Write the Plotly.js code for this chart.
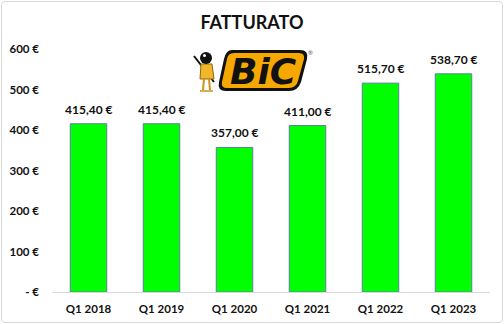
<!DOCTYPE html>
<html><head><meta charset="utf-8">
<script src="https://cdn.plot.ly/plotly-3.0.1.min.js"></script>
<style>
html,body{margin:0;padding:0;background:#fff;}
#wrap{position:relative;width:504px;height:324px;}
#chart{width:504px;height:324px;}
#frame{position:absolute;left:1px;top:1px;width:500px;height:320px;border:1px solid #d9d9d9;border-radius:4px;pointer-events:none;}
</style></head>
<body>
<div id="wrap"><div id="chart"></div><div id="frame"></div></div>
<script>
const categories = ["Q1 2018","Q1 2019","Q1 2020","Q1 2021","Q1 2022","Q1 2023"];
const values = [415.40, 415.40, 357.00, 411.00, 515.70, 538.70];
const tickValues = [0,100,200,300,400,500,600];
const tickLabels = ["- €","100 €","200 €","300 €","400 €","500 €","600 €"];

const labels = values.map(v => v.toFixed(2).replace('.', ',') + ' €');
const FONT = "Lato, 'Open Sans', sans-serif";

// plot area: x 52..490, y 49..292
const L = 52, R = 14, T = 49, B = 32, W = 504, H = 324;
const pw = W - L - R, ph = H - T - B;
const px = x => (x - L) / pw;
const py = y => (H - B - y) / ph;

function pathStr(cmds){
  return cmds.map(c => {
    const op = c[0];
    const nums = [];
    for (let i = 1; i < c.length; i += 2) nums.push(px(c[i]).toFixed(4) + ',' + py(c[i+1]).toFixed(4));
    return op + nums.join(' ');
  }).join(' ') + ' Z';
}
const outer = pathStr([
  ['M', 232, 50], ['L', 300, 50], ['Q', 309, 50, 307, 59], ['L', 301, 82],
  ['Q', 298, 91, 289, 91], ['L', 226, 91], ['Q', 217, 91, 219, 82], ['L', 224, 59],
  ['Q', 226, 50, 232, 50]
]);
const inner = pathStr([
  ['M', 234, 53], ['L', 299, 53], ['Q', 305, 53, 304, 59], ['L', 298, 81],
  ['Q', 296, 88, 289, 88], ['L', 227, 88], ['Q', 221, 88, 222, 82], ['L', 227, 59],
  ['Q', 228, 53, 234, 53]
]);
const body = pathStr([
  ['M', 201, 64], ['L', 212, 64], ['L', 214, 79], ['L', 200, 79]
]);

const shapes = [
  {type:'path', xref:'paper', yref:'paper', path: outer, fillcolor:'#111', line:{width:0}},
  {type:'path', xref:'paper', yref:'paper', path: inner, fillcolor:'#f7a800', line:{width:0}},
  {type:'line', xref:'paper', yref:'paper', x0:px(194), y0:py(56), x1:px(214), y1:py(82), line:{color:'#111', width:2}},
  {type:'path', xref:'paper', yref:'paper', path: body, fillcolor:'#f2b62a', line:{color:'#8a6a10', width:1}},
  {type:'circle', xref:'paper', yref:'paper', x0:px(200), y0:py(52), x1:px(212), y1:py(64), fillcolor:'#111', line:{width:0}},
  {type:'circle', xref:'paper', yref:'paper', x0:px(203), y0:py(54), x1:px(206), y1:py(57), fillcolor:'#fff', line:{width:0}},
  {type:'line', xref:'paper', yref:'paper', x0:px(204), y0:py(79), x1:px(203), y1:py(90), line:{color:'#c9951c', width:2}},
  {type:'line', xref:'paper', yref:'paper', x0:px(209), y0:py(79), x1:px(210), y1:py(90), line:{color:'#c9951c', width:2}},
  {type:'line', xref:'paper', yref:'paper', x0:px(200), y0:py(91), x1:px(213), y1:py(91), line:{color:'#c9951c', width:1.5}}
];

const trace = {
  type: 'bar',
  x: categories,
  y: values,
  marker: {color: '#00ff00', line: {color: '#5b7f9e', width: 1}},
  hoverinfo: 'none'
};

const valueAnnotations = categories.map((c, i) => ({
  x: c, y: values[i], xref: 'x', yref: 'y', xanchor: 'center', yanchor: 'bottom',
  yshift: 5, showarrow: false, text: '<b>' + labels[i] + '</b>',
  font: {family: FONT, size: 12, color: '#111'}
}));

const layout = {
  width: W, height: H,
  margin: {l: L, r: R, t: T, b: B, pad: 0},
  paper_bgcolor: '#fff', plot_bgcolor: '#fff',
  bargap: 0.5,
  showlegend: false,
  font: {family: FONT, size: 11, color: '#111'},
  title: {text: '<b>FATTURATO</b>', x: 0.5, xanchor: 'center', y: 0.93, yanchor: 'middle',
          font: {family: FONT, size: 18, color: '#111'}},
  xaxis: {
    type: 'category', showgrid: false, zeroline: false,
    showline: true, linecolor: '#d9d9d9', linewidth: 1,
    ticks: '', ticklabelstandoff: 6,
    tickfont: {family: FONT, size: 11.5, color: '#111', weight: 'bold'}
  },
  yaxis: {
    range: [0, 600], showgrid: false, zeroline: false, showline: false,
    tickvals: tickValues, ticktext: tickLabels, ticks: '', ticklabelstandoff: 12,
    tickfont: {family: FONT, size: 11.5, color: '#111', weight: 'bold'}
  },
  shapes: shapes,
  annotations: valueAnnotations.concat([
    {xref:'paper', yref:'paper', x: px(263), y: py(71), xanchor:'center', yanchor:'middle', showarrow:false,
     text:'<b><i>BiC</i></b>', font:{family:"'DejaVu Sans', sans-serif", size:36, color:'#111'}},
    {xref:'paper', yref:'paper', x: px(310), y: py(52), xanchor:'center', yanchor:'middle', showarrow:false,
     text:'®', font:{family:FONT, size:6, color:'#555'}}
  ])
};

Plotly.newPlot('chart', [trace], layout, {staticPlot: true, displayModeBar: false});
</script>
</body></html>
